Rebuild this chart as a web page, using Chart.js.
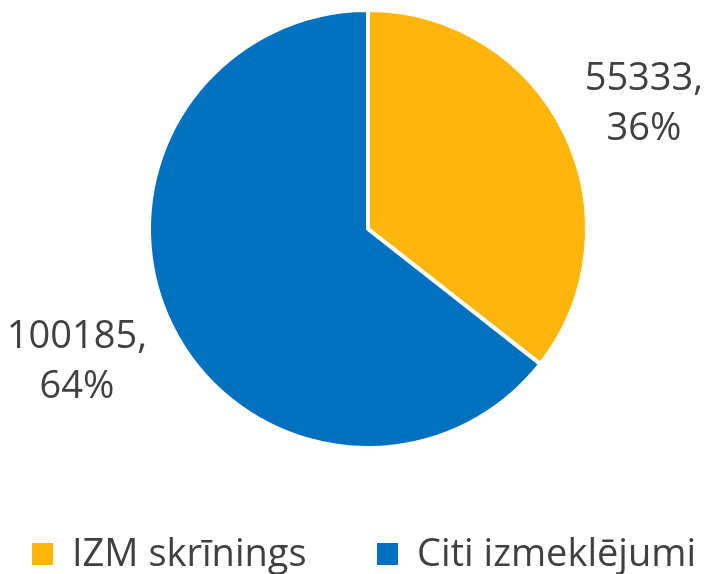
<!DOCTYPE html>
<html>
<head>
<meta charset="utf-8">
<script src="https://cdn.jsdelivr.net/npm/chart.js@4/dist/chart.umd.min.js"></script>
<style>
  html, body { margin: 0; padding: 0; background: #fff; }
  #wrap { position: relative; width: 728px; height: 574px; overflow: hidden; }
  #legend { position: absolute; left: 0; top: 525px; width: 728px; height: 49px;
            font-family: "Open Sans", sans-serif; font-size: 38px; color: #404040; }
  .lg-item { position: absolute; top: 0; display: flex; align-items: center; white-space: nowrap; }
  .lg-box { width: 21px; height: 22px; margin-right: 19px; margin-top: 6px; }
</style>
</head>
<body>
<div id="wrap">
  <canvas id="pie" width="728" height="574"></canvas>
  <div id="legend"></div>
</div>
<script>
// ── Data ──────────────────────────────────────────────────────
const categories = ['IZM skrīnings', 'Citi izmeklējumi'];
const values     = [55333, 100185];

// ── Style ─────────────────────────────────────────────────────
const sliceColors   = ['#FFB60B', '#0070C0'];
const legendLeft    = [32, 377];
const labelPlace    = [ { angle: 65, dist: 1.39 }, { angle: 246, dist: 1.455 } ];
const TEXT_COLOR    = '#404040';
const FONT_FAMILY   = '"Open Sans", sans-serif';

const total = values.reduce((a, b) => a + b, 0);

// labels "value," / "pct%" placed around each slice
const sliceLabels = {
    id: 'sliceLabels',
    afterDatasetsDraw(chart) {
        const ctx  = chart.ctx;
        const arcs = chart.getDatasetMeta(0).data;
        ctx.save();
        ctx.fillStyle    = TEXT_COLOR;
        ctx.font         = `38px ${FONT_FAMILY}`;
        ctx.textAlign    = 'center';
        ctx.textBaseline = 'middle';
        arcs.forEach((arc, i) => {
            const p   = labelPlace[i];
            const a   = p.angle * Math.PI / 180;
            const r   = arc.outerRadius * p.dist;
            const cx  = arc.x + Math.sin(a) * r;
            const cy  = arc.y - Math.cos(a) * r;
            const pct = Math.round(values[i] / total * 100) + '%';
            ctx.fillText(values[i] + ',', cx, cy - 21);
            ctx.fillText(pct, cx, cy + 29);
        });
        ctx.restore();
    },
};

new Chart(document.getElementById('pie'), {
    type: 'pie',
    data: {
        labels: categories,
        datasets: [{
            data: values,
            backgroundColor: sliceColors,
            borderColor: '#ffffff',
            borderWidth: 4,
            hoverOffset: 0,
            radius: 219,
        }],
    },
    options: {
        responsive: false, animation: false,
        layout: { padding: { left: 150, right: 142, top: 10, bottom: 126 } },
        plugins: {
            legend:  { display: false },
            tooltip: { enabled: false },
        },
    },
    plugins: [sliceLabels],
});

// ── Legend ────────────────────────────────────────────────────
document.getElementById('legend').innerHTML = categories.map((c, i) =>
    `<div class="lg-item" style="left:${legendLeft[i]}px">
       <div class="lg-box" style="background:${sliceColors[i]}"></div><span>${c}</span>
     </div>`).join('');
</script>
</body>
</html>
